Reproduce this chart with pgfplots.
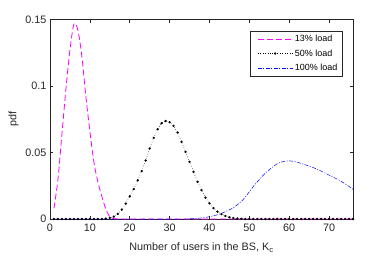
\documentclass[border=0pt]{standalone}
\usepackage{pgfplots}
\pgfplotsset{compat=1.18}
\usepackage{fontspec}
\setmainfont{Liberation Sans}
\definecolor{axgray}{gray}{0.15}
\definecolor{plotmagenta}{rgb}{1,0,1}
\definecolor{plotblue}{rgb}{0,0,1}
\begin{document}
\begin{tikzpicture}
\begin{axis}[
  name=ax,
  scale only axis,
  width=303bp, height=199.5bp,
  xmin=0, xmax=76, ymin=0, ymax=0.15,
  xtick={0,10,20,30,40,50,60,70},
  ytick={0,0.05,0.1,0.15},
  yticklabels={0,0.05,0.1,0.15},
  scaled y ticks=false,
  tick align=inside,
  major tick length=3bp,
  axis line style={axgray, line width=0.5bp},
  tick style={axgray, line width=0.5bp},
  every tick label/.append style={font=\fontsize{10.8bp}{12bp}\selectfont, text=axgray},
  xticklabel style={yshift=-1bp},
  /pgf/number format/assume math mode=true,
  xlabel={Number of users in the BS, K\textsubscript{c}},
  ylabel={pdf},
  label style={font=\fontsize{10.8bp}{12bp}\selectfont, text=axgray},
  xlabel style={at={(axis description cs:0.5,-0.16)}, anchor=base},
  ylabel style={at={(axis description cs:-0.1205,0.5)}, anchor=center},
  legend style={at={(0.9637,0.942)}, anchor=north east, draw=none, fill=white, name=leg,
    font=\fontsize{9}{10}\selectfont, inner xsep=2.5bp, inner ysep=2bp, row sep=2.3bp,
    cells={anchor=west}},
  legend cell align=left,
  legend image code/.code={\path (-4bp,0bp); \draw[mark repeat=2,mark phase=2,#1] plot coordinates {(0bp,0bp) (17.5bp,0bp) (35bp,0bp)};},
]
\addlegendimage{color=plotmagenta, draw=plotmagenta, line width=0.8bp, dash pattern=on 6bp off 3bp}
\addlegendentry{13\% load}
\addlegendimage{color=black, line width=0.5bp, dotted, mark=*, mark size=0.9bp, mark options={solid}}
\addlegendentry{50\% load}
\addlegendimage{color=plotblue, draw=plotblue, line width=0.5bp, dash pattern=on 4bp off 1.5bp on 1bp off 1.5bp}
\addlegendentry{100\% load}
\addplot[forget plot, color=plotmagenta, draw=plotmagenta, line width=0.8bp, dash pattern=on 6bp off 3bp, smooth] coordinates {
(1,0.008) (2,0.030) (3,0.064) (4,0.098) (5,0.127) (6,0.1465) (7,0.142) (8,0.122)
(9,0.092) (10,0.066) (11,0.043) (12,0.028) (13,0.017) (14,0.0075) (15,0.0017)
(16,0.0003) (17,0) (18,0) (20,0) (25,0) (30,0) (35,0) (40,0) (45,0) (50,0)
(55,0) (60,0) (65,0) (70,0) (76,0)};
\addplot[forget plot, color=black, line width=0.5bp, dotted, mark=*, mark size=0.9bp, mark options={solid}] coordinates {
(1,0) (2,0) (3,0) (4,0) (5,0) (6,0) (7,0) (8,0) (9,0) (10,0) (11,0) (12,0) (13,0)
(14,0.0003) (15,0.0008) (16,0.0018) (17,0.0038) (18,0.007) (19,0.0115) (20,0.017)
(21,0.0225) (22,0.029) (23,0.036) (24,0.044) (25,0.053) (26,0.061) (27,0.0675)
(28,0.072) (29,0.0737) (30,0.0728) (31,0.0700) (32,0.065) (33,0.058) (34,0.0505)
(35,0.043) (36,0.0355) (37,0.028) (38,0.0218) (39,0.016) (40,0.0118) (41,0.0082)
(42,0.0055) (43,0.0037) (44,0.0023) (45,0.0013) (46,0.0007) (47,0.0003) (48,0.0001)
(49,0) (50,0) (51,0) (52,0) (53,0) (54,0) (55,0) (56,0) (57,0) (58,0) (59,0) (60,0)
(61,0) (62,0) (63,0) (64,0) (65,0) (66,0) (67,0) (68,0) (69,0) (70,0) (71,0) (72,0)
(73,0) (74,0) (75,0) (76,0)};
\addplot[forget plot, color=plotblue, draw=plotblue, line width=0.5bp, dash pattern=on 4bp off 1.5bp on 1bp off 1.5bp, smooth] coordinates {
(1,0) (10,0) (20,0) (30,0) (34,0) (35,0.0002) (36,0.0003) (37,0.0005) (38,0.0008)
(39,0.0012) (40,0.0017) (41,0.0024) (42,0.0032) (43,0.0042) (44,0.0055) (45,0.0069)
(46,0.0085) (47,0.0107) (48,0.0133) (49,0.0165) (50,0.0205) (51,0.0245) (52,0.028)
(53,0.0313) (54,0.0345) (55,0.037) (56,0.0395) (57,0.0415) (58,0.0428) (59,0.0435)
(60,0.0437) (61,0.0434) (62,0.0428) (63,0.0418) (64,0.0408) (65,0.0397) (66,0.0387)
(67,0.0373) (68,0.036) (69,0.0345) (70,0.033) (71,0.0315) (72,0.030) (73,0.0283)
(74,0.0265) (75,0.0245) (76,0.0223)};
\end{axis}
\draw[axgray, line width=0.5bp] (leg.south west) rectangle (leg.north east);
\pgfresetboundingbox
\path ([xshift=-50bp,yshift=-40bp]ax.south west) rectangle ([xshift=38bp,yshift=19.5bp]ax.north east);
\end{tikzpicture}
\end{document}
